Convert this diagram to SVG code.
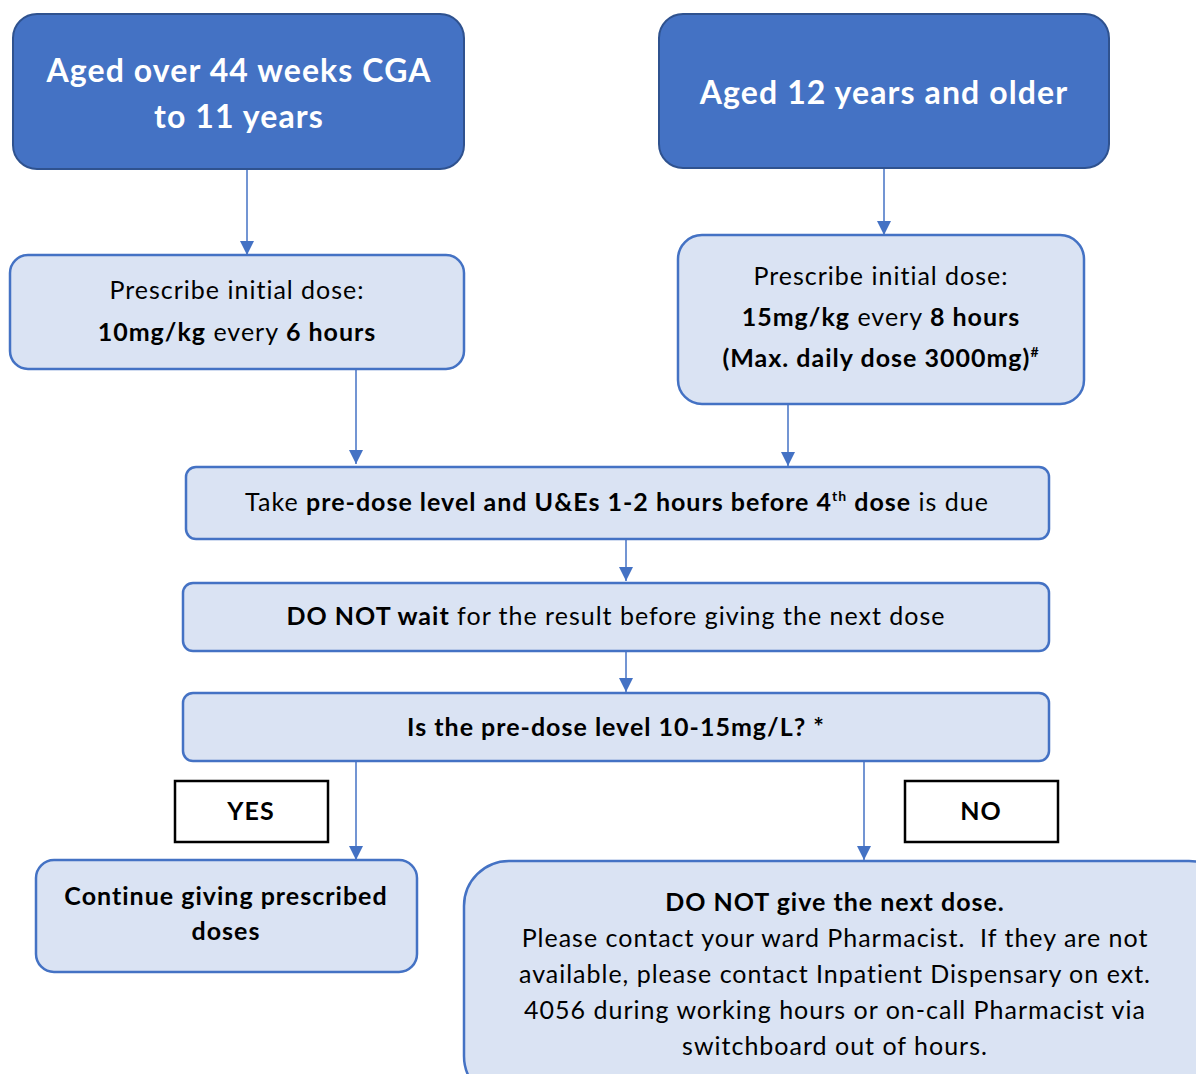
<svg xmlns="http://www.w3.org/2000/svg" width="1196" height="1074" viewBox="0 0 1196 1074">
<style>
text{font-family:Lato,"Open Sans","Liberation Sans",sans-serif;fill:#000;text-anchor:middle}
.dark{fill:#4472C4;stroke:#2F528F;stroke-width:2}
.light{fill:#DAE3F3;stroke:#4472C4;stroke-width:2.5}
.lbl{fill:#fff;stroke:#000;stroke-width:2.5}
.title{fill:#fff;font-weight:bold;font-size:32px;letter-spacing:1.1px}
.body{font-size:25px;letter-spacing:1px}
.b{font-weight:bold}
.conn line{stroke:#4472C4;stroke-width:1.5;marker-end:url(#ah)}
</style>
<defs>
<marker id="ah" markerUnits="userSpaceOnUse" markerWidth="14" markerHeight="16" viewBox="0 0 14 16" refX="14" refY="7" orient="auto">
<path d="M0,0 L14,7 L0,14 Z" fill="#4472C4"/>
</marker>
</defs>
<rect width="1196" height="1074" fill="#fff"/>
<g class="conn">
<line x1="247" y1="169" x2="247" y2="255"/>
<line x1="884" y1="168" x2="884" y2="235"/>
<line x1="356" y1="369" x2="356" y2="464"/>
<line x1="788" y1="404" x2="788" y2="466"/>
<line x1="626" y1="539" x2="626" y2="581"/>
<line x1="626" y1="651" x2="626" y2="692"/>
<line x1="356" y1="761" x2="356" y2="860"/>
<line x1="864" y1="761" x2="864" y2="860"/>
</g>
<g id="n1">
<rect class="dark" x="13" y="14" width="451" height="155" rx="24"/>
<text class="title" x="239" y="82">Aged over 44 weeks CGA</text>
<text class="title" x="239" y="128">to 11 years</text>
</g>
<g id="n2">
<rect class="dark" x="659" y="14" width="450" height="154" rx="24"/>
<text class="title" x="884" y="104">Aged 12 years and older</text>
</g>
<g id="n3">
<rect class="light" x="10" y="255" width="454" height="114" rx="18"/>
<text class="body" x="237" y="299">Prescribe initial dose:</text>
<text class="body" x="237" y="341"><tspan class="b">10mg/kg</tspan> every <tspan class="b">6 hours</tspan></text>
</g>
<g id="n4">
<rect class="light" x="678" y="235" width="406" height="169" rx="24"/>
<text class="body" x="881" y="285">Prescribe initial dose:</text>
<text class="body" x="881" y="326"><tspan class="b">15mg/kg</tspan> every <tspan class="b">8 hours</tspan></text>
<text class="body b" x="881" y="367">(Max. daily dose 3000mg)<tspan font-size="14" dy="-10">#</tspan></text>
</g>
<g id="n5">
<rect class="light" x="186" y="467" width="863" height="72" rx="10"/>
<text class="body" x="617" y="511">Take <tspan class="b">pre-dose level and U&amp;Es 1-2 hours before 4<tspan font-size="14" dy="-10">th</tspan><tspan dy="10"> dose</tspan></tspan> is due</text>
</g>
<g id="n6">
<rect class="light" x="183" y="583" width="866" height="68" rx="10"/>
<text class="body" x="616" y="625"><tspan class="b">DO NOT wait</tspan> for the result before giving the next dose</text>
</g>
<g id="n7">
<rect class="light" x="183" y="693" width="866" height="68" rx="10"/>
<text class="body b" x="616" y="736">Is the pre-dose level 10-15mg/L? *</text>
</g>
<g id="yes">
<rect class="lbl" x="175" y="781" width="153" height="61"/>
<text class="body b" x="251" y="820">YES</text>
</g>
<g id="no">
<rect class="lbl" x="905" y="781" width="153" height="61"/>
<text class="body b" x="981" y="820">NO</text>
</g>
<g id="n8">
<rect class="light" x="36" y="860" width="381" height="112" rx="18"/>
<text class="body b" x="226" y="905">Continue giving prescribed</text>
<text class="body b" x="226" y="940">doses</text>
</g>
<g id="n9">
<rect class="light" x="464" y="861" width="770" height="240" rx="45"/>
<text class="body b" x="835" y="911">DO NOT give the next dose.</text>
<text class="body" x="835" y="947">Please contact your ward Pharmacist.&#160; If they are not</text>
<text class="body" x="835" y="983">available, please contact Inpatient Dispensary on ext.</text>
<text class="body" x="835" y="1019">4056 during working hours or on-call Pharmacist via</text>
<text class="body" x="835" y="1055">switchboard out of hours.</text>
</g>
</svg>
